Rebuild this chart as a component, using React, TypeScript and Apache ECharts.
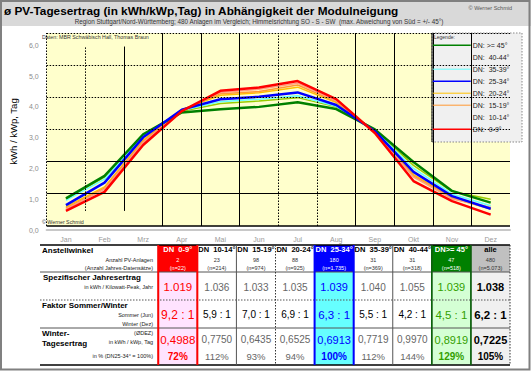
import React, { useEffect, useRef } from 'react';
import * as echarts from 'echarts';

// ---------- data ----------
const months = ['Jan', 'Feb', 'Mrz', 'Apr', 'Mai', 'Jun', 'Jul', 'Aug', 'Sep', 'Okt', 'Nov', 'Dez'];

const dn0_9 = [0.62, 1.24, 2.76, 3.86, 4.52, 4.63, 4.84, 4.25, 3.15, 1.59, 0.94, 0.5];
const dn10_14 = [0.68, 1.32, 2.84, 3.88, 4.47, 4.57, 4.77, 4.2, 3.17, 1.72, 1.01, 0.74];
const dn15_19 = [0.71, 1.36, 2.88, 3.89, 4.43, 4.5, 4.71, 4.17, 3.19, 1.76, 1.04, 0.68];
const dn20_24 = [0.75, 1.4, 2.92, 3.91, 4.38, 4.46, 4.64, 4.14, 3.2, 1.8, 1.06, 0.69];
const dn25_34 = [0.81, 1.54, 3.01, 3.91, 4.25, 4.33, 4.47, 4.06, 3.21, 1.89, 1.1, 0.69];
const dn35_39 = [0.96, 1.65, 3.05, 3.88, 4.17, 4.25, 4.36, 4.02, 3.24, 2.0, 1.17, 0.79];
const dn40_44 = [1.0, 1.72, 3.08, 3.86, 4.11, 4.19, 4.3, 4.0, 3.26, 2.1, 1.25, 1.0];
const dn45 = [1.03, 1.76, 3.11, 3.82, 3.92, 4.0, 4.15, 3.93, 3.27, 2.21, 1.27, 0.89];

const tableHeads = ['DN  0-9°', 'DN  10-14°', 'DN  15-19°', 'DN  20-24°', 'DN  25-34°', 'DN  35-39°', 'DN  40-44°', 'DN>= 45°', 'alle'];
const anlagen = [2, 23, 98, 88, 180, 31, 31, 47, 480];
const datensaetze = [22, 214, 974, 925, 1735, 369, 318, 518, 5073];
const jahresertrag = [1019, 1036, 1033, 1035, 1039, 1040, 1055, 1039, 1038];
const faktor = [9.2, 5.9, 7.0, 6.9, 6.3, 5.5, 4.2, 4.5, 6.2];
const winterErtrag = [0.4988, 0.775, 0.6435, 0.6525, 0.6913, 0.7719, 0.997, 0.8919, 0.7225];
const prozent = [72, 112, 93, 94, 100, 112, 144, 129, 105];

// ---------- layout ----------
const FONT = '"Liberation Sans", Arial, sans-serif';
const PL = 41, PR = 510, PT = 33, PB = 230;
const CW = (PR - PL) / 12;
const YMAX = 6.4;
const YBOT = 0.13;

const thou = (n: number) => String(n).replace(/\B(?=(\d{3})+(?!\d))/g, '.');
const dec = (n: number, d: number) => n.toFixed(d).replace('.', ',');

const seriesDefs = [
  { name: 'DN:  40-44°', data: dn40_44, color: '#99cc00', width: 1.5, legendColor: 'rgba(0,0,0,0)' },
  { name: 'DN:  35-39°', data: dn35_39, color: '#66ffff', width: 1.5, legendColor: '#66ffff' },
  { name: 'DN:  20-24°', data: dn20_24, color: '#ffc000', width: 1.5, legendColor: '#ffc000' },
  { name: 'DN:  15-19°', data: dn15_19, color: '#ff9933', width: 1.5, legendColor: '#ff9933' },
  { name: 'DN:  10-14°', data: dn10_14, color: '#ff9f80', width: 1.5, legendColor: 'rgba(0,0,0,0)' },
  { name: 'DN: >= 45°', data: dn45, color: '#008000', width: 2.5, legendColor: '#008000' },
  { name: 'DN:  25-34°', data: dn25_34, color: '#0000ff', width: 2.5, legendColor: '#0000ff' },
  { name: 'DN:  0-9°', data: dn0_9, color: '#ff0000', width: 2.5, legendColor: '#ff0000' },
];
const legendOrder = ['DN: >= 45°', 'DN:  40-44°', 'DN:  35-39°', 'DN:  25-34°', 'DN:  20-24°', 'DN:  15-19°', 'DN:  10-14°', 'DN:  0-9°'];

function txt(x: number, y: number, text: string, size: number, opts: any = {}) {
  const align = opts.align || 'left';
  return {
    type: 'text',
    x, y,
    z: opts.z || 5,
    silent: true,
    style: {
      text,
      fill: opts.color || '#000',
      font: `${opts.bold ? 'bold ' : ''}${size}px ${FONT}`,
      textAlign: align, align,
      textVerticalAlign: 'middle', verticalAlign: 'middle',
    },
  };
}
function ln(x1: number, y1: number, x2: number, y2: number, color: string, width: number, dotted = false, z = 5) {
  return {
    type: 'line', z, silent: true,
    shape: { x1, y1, x2, y2 },
    style: { stroke: color, lineWidth: width, lineDash: dotted ? [1.5, 1.5] : null },
  };
}
function rect(x: number, y: number, w: number, h: number, fill: string, z = 4, stroke?: string, dotted = false) {
  return {
    type: 'rect', z, silent: true,
    shape: { x, y, width: w, height: h },
    style: { fill, stroke: stroke || null, lineWidth: stroke ? 1 : 0, lineDash: dotted ? [1.5, 1.5] : null },
  };
}

function buildTable() {
  const els: any[] = [];
  const rows = [245, 272, 300, 328, 365];
  const colX = (i: number) => PL + (3 + i) * CW;
  const special: Record<number, any> = {
    0: { head: '#ff0000', body: '#ffe3ff', headText: '#ffffff', val: '#ff0000', border: '#ff0000', bw: 2, size: 11.5 },
    4: { head: '#0000ff', body: '#66ffff', headText: '#ffffff', val: '#0000ff', border: '#0000ff', bw: 2, size: 11 },
    7: { head: '#008000', body: '#d4ffd4', headText: '#ffffff', val: '#33a000', border: '#006000', bw: 1.5, size: 11 },
    8: { head: '#c0c0c0', body: '#f0f0f0', headText: '#000000', val: '#000000', border: null, bw: 1, size: 11, bold: true },
  };
  tableHeads.forEach((_, i) => {
    const s = special[i];
    if (s) {
      els.push(rect(colX(i), rows[0], CW, rows[1] - rows[0], s.head, 3));
      els.push(rect(colX(i), rows[1], CW, rows[4] - rows[1], s.body, 3));
    }
  });
  els.push(ln(40, rows[0], PR, rows[0], '#000', 1.5));
  els.push(ln(40, rows[1], PR, rows[1], '#555', 1));
  els.push(ln(40, rows[2], PR, rows[2], '#555', 1, true));
  els.push(ln(40, rows[3], PR, rows[3], '#555', 1));
  els.push(ln(40, rows[4], PR, rows[4], '#000', 1.5));
  for (let i = 0; i <= 9; i++) {
    const x = colX(i);
    if (i === 3 || i === 9) { els.push(ln(x, rows[0], x, rows[4], '#333', 1, true)); continue; }
    els.push(ln(x, rows[0], x, rows[4], '#555', 1));
  }
  [0, 4, 7].forEach((i) => {
    const s = special[i];
    els.push(ln(colX(i), rows[0], colX(i), rows[4], s.border, s.bw, false, 6));
    els.push(ln(colX(i + 1), rows[0], colX(i + 1), rows[4], s.border, s.bw, false, 6));
  });
  const RX = 153;
  els.push(txt(42, 250, 'Anstellwinkel', 8, { bold: true }));
  els.push(txt(RX, 259.5, 'Anzahl PV-Anlagen', 5.5, { align: 'right', color: '#222' }));
  els.push(txt(RX, 268, '(Anzahl Jahres-Datensätze)', 5.5, { align: 'right', color: '#222' }));
  els.push(txt(43, 277, 'Spezifischer Jahresertrag', 8, { bold: true }));
  els.push(txt(RX, 287, 'in kWh / Kilowatt-Peak, Jahr', 5.5, { align: 'right', color: '#222' }));
  els.push(txt(42, 305, 'Faktor Sommer/Winter', 8, { bold: true }));
  els.push(txt(RX, 315, 'Sommer (Jun)', 5.5, { align: 'right', color: '#222' }));
  els.push(txt(RX, 324, 'Winter (Dez)', 5.5, { align: 'right', color: '#222' }));
  els.push(txt(42, 333, 'Winter-', 8, { bold: true }));
  els.push(txt(42, 343, 'Tagesertrag', 8, { bold: true }));
  els.push(txt(RX, 333, '(ØDEZ)', 5.5, { align: 'right', color: '#222' }));
  els.push(txt(RX, 342, 'in kWh / kWp, Tag', 5.5, { align: 'right', color: '#222' }));
  els.push(txt(RX, 356, 'in % (DN25-34° = 100%)', 5.5, { align: 'right', color: '#222' }));
  tableHeads.forEach((h, i) => {
    const cx = colX(i) + CW / 2;
    const s = special[i];
    const headCol = s ? s.headText : '#000';
    const smallCol = s && i !== 8 ? '#ffffff' : '#333';
    els.push(txt(cx, 249.5, h, 7.5, { bold: true, align: 'center', color: headCol, z: 7 }));
    els.push(txt(cx, 259.5, String(anlagen[i]), 5.5, { align: 'center', color: smallCol, z: 7 }));
    els.push(txt(cx, 268, `(n=${thou(datensaetze[i])})`, 5.5, { align: 'center', color: smallCol, z: 7 }));
    const vc = s ? s.val : '#666';
    const vs = s ? s.size : 10;
    const bold = s ? !!s.bold : false;
    els.push(txt(cx, 287, thou(jahresertrag[i]), vs, { align: 'center', color: vc, bold, z: 7 }));
    els.push(txt(cx, 314.5, `${dec(faktor[i], 1)} : 1`, s ? vs + 0.5 : 10, { align: 'center', color: s ? s.val : '#000', bold, z: 7 }));
    els.push(txt(cx, 339.5, dec(winterErtrag[i], 4), vs, { align: 'center', color: vc, bold, z: 7 }));
    els.push(txt(cx, 356, `${prozent[i]}%`, s ? 10 : 9.5, { align: 'center', color: vc, bold: s ? true : false, z: 7 }));
  });
  return els;
}

function buildDecor() {
  const els: any[] = [];
  els.push(rect(0, 0, 531, 26, '#d9d9d9', 1));
  els.push(txt(4, 11, 'ø PV-Tagesertrag (in kWh/kWp,Tag) in Abhängigkeit der Modulneigung', 11.8, { bold: true }));
  els.push(txt(512, 8, '© Werner Schmid', 5.5, { align: 'right', color: '#555' }));
  els.push(txt(259, 21, 'Region Stuttgart/Nord-Württemberg; 480 Anlagen im Vergleich; Himmelsrichtung SO - S - SW  (max. Abweichung von Süd = +/- 45°)', 6.3, { align: 'center', color: '#333' }));
  els.push({ type: 'rect', z: 30, silent: true, shape: { x: 1, y: 1, width: 528.5, height: 368.5 }, style: { fill: 'none', stroke: '#808080', lineWidth: 2 } });
  els.push(txt(42, 37, 'Daten: MBR Schwäbisch Hall, Thomas Braun', 5.3, { color: '#333' }));
  els.push(txt(42, 222, '© Werner Schmid', 5.3, { color: '#333' }));
  els.push(rect(432, PT, 90, 109, '#f0f0f0', 3, '#888', true));
  els.push(ln(432, PT, 432, 142, '#000', 1, false, 3));
  els.push(txt(434, 36.5, 'Legende:', 5, { color: '#333', z: 6 }));
  return els;
}

function gridMarks() {
  const H = [
    { y: 5.36, dotted: true }, { y: 4.3, dotted: true }, { y: 3.27, dotted: true },
    { y: 2.22, dotted: false }, { y: 1.19, dotted: false },
  ];
  const V = [
    { k: 1, dotted: true, partial: true }, { k: 2, dotted: false, partial: true },
    { k: 3, dotted: false }, { k: 4, dotted: false }, { k: 5, dotted: false },
    { k: 6, dotted: true }, { k: 7, dotted: true }, { k: 8, dotted: false },
    { k: 9, dotted: false }, { k: 10, dotted: false }, { k: 11, dotted: false },
  ];
  const data: any[] = [];
  H.forEach((h) => {
    data.push([
      { coord: [0, h.y], lineStyle: { color: '#000', width: 1, type: h.dotted ? [1.5, 1.5] : 'solid' } },
      { coord: [12, h.y] },
    ]);
  });
  V.forEach((v) => {
    const y0 = v.partial ? 0.62 : YBOT;
    const y1 = v.partial ? 5.96 : YMAX;
    data.push([
      { coord: [v.k, y0], lineStyle: { color: '#000', width: 1, type: v.dotted ? [1.5, 1.5] : 'solid' } },
      { coord: [v.k, y1] },
    ]);
  });
  data.push([{ coord: [0, YMAX], lineStyle: { color: '#000', width: 1, type: [1.5, 1.5] } }, { coord: [12, YMAX] }]);
  data.push([{ coord: [0, YBOT], lineStyle: { color: '#000', width: 1, type: [1.5, 1.5] } }, { coord: [0, YMAX] }]);
  data.push([{ coord: [0, YBOT], lineStyle: { color: '#000', width: 1.5, type: 'solid' } }, { coord: [12, YBOT] }]);
  return data;
}

export default function App() {
  const ref = useRef<HTMLDivElement>(null);
  useEffect(() => {
    if (!ref.current) return;
    const chart = echarts.init(ref.current, null, { renderer: 'svg' });
    const series: any[] = [
      {
        type: 'line', xAxisIndex: 1, yAxisIndex: 0, data: [], silent: true, z: 1,
        markArea: { silent: true, itemStyle: { color: '#ffffcc' }, data: [[{ coord: [0, YBOT] }, { coord: [12, YMAX] }]] },
        markLine: { silent: true, symbol: ['none', 'none'], label: { show: false }, animation: false, data: gridMarks() },
      },
      ...seriesDefs.map((s) => ({
        type: 'line', name: s.name, data: s.data, symbol: 'none', showSymbol: false, z: 2,
        lineStyle: { color: s.color, width: s.width }, itemStyle: { color: s.color },
      })),
    ];
    const option: any = {
      animation: false,
      backgroundColor: '#ffffff',
      textStyle: { fontFamily: FONT },
      grid: { left: PL, top: PT, width: PR - PL, height: PB - PT, containLabel: false },
      xAxis: [
        {
          type: 'category', data: months, boundaryGap: true,
          axisLine: { show: true, lineStyle: { color: '#c8c8c8', width: 2 } },
          axisTick: { show: false },
          axisLabel: { color: '#9a9a9a', fontSize: 7, margin: 6, fontFamily: FONT },
          splitLine: { show: false },
        },
        { type: 'value', min: 0, max: 12, show: false, position: 'bottom' },
      ],
      yAxis: {
        type: 'value', min: 0, max: YMAX, interval: 1,
        axisLine: { show: false }, axisTick: { show: false }, splitLine: { show: false },
        axisLabel: {
          color: '#8c8c8c', fontSize: 7, margin: 8, fontFamily: FONT,
          formatter: (v: number) => (Math.abs(v - Math.round(v)) < 1e-6 ? dec(v, 1) : ''),
        },
        name: 'kWh / kWp, Tag', nameLocation: 'middle', nameRotate: 90, nameGap: 24,
        nameTextStyle: { fontSize: 9.5, color: '#000', fontFamily: FONT },
      },
      legend: {
        orient: 'vertical', left: 432, top: 41.7, itemWidth: 38, itemHeight: 8, itemGap: 5, padding: 0,
        selectedMode: false, z: 10,
        textStyle: { fontSize: 7, color: '#222', fontFamily: FONT, padding: [0, 0, 0, -3] },
        data: legendOrder.map((n) => {
          const d = seriesDefs.find((s) => s.name === n)!;
          return {
            name: n,
            lineStyle: { color: d.legendColor, width: d.width > 2 ? 1.5 : 1 },
            itemStyle: { color: 'rgba(0,0,0,0)', opacity: 0, borderWidth: 0 },
          };
        }),
      },
      series,
      graphic: { elements: [...buildDecor(), ...buildTable()] },
    };
    chart.setOption(option);
    return () => chart.dispose();
  }, []);
  return <div ref={ref} style={{ position: 'fixed', left: 0, top: 0, width: 531, height: 372 }} />;
}
